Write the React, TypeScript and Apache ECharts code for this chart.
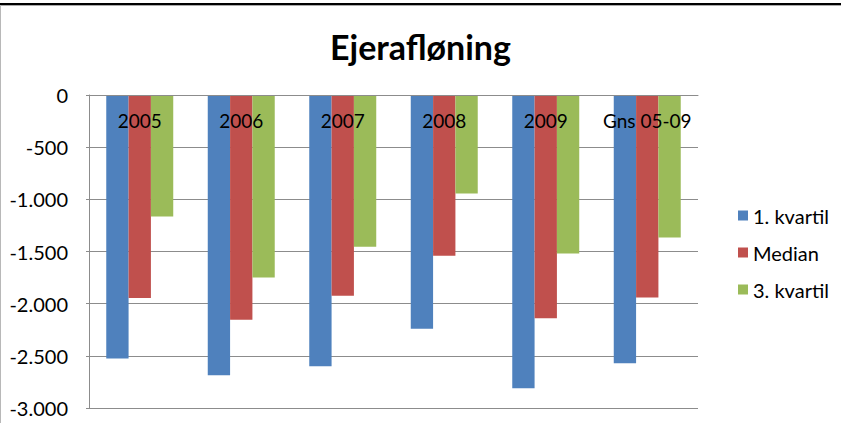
import React, { useEffect, useRef } from "react";
import * as echarts from "echarts";

const categories = ["2005", "2006", "2007", "2008", "2009", "Gns 05-09"];
const seriesNames = ["1. kvartil", "Median", "3. kvartil"];
const kvartil1 = [-2525, -2685, -2600, -2240, -2810, -2570];
const median = [-1945, -2155, -1925, -1540, -2140, -1940];
const kvartil3 = [-1165, -1750, -1455, -943, -1520, -1365];
const yTicks = { min: -3000, max: 0, interval: 500 };
const colors = ["#4F81BD", "#C0504D", "#9BBB59"];

const FONT = "Lato";

function fmt(v: number): string {
  const s = Math.abs(v).toString().replace(/\B(?=(\d{3})+(?!\d))/g, ".");
  return (v < 0 ? "-" : "") + s;
}

export default function App() {
  const ref = useRef<HTMLDivElement>(null);
  useEffect(() => {
    if (!ref.current) return;
    const chart = echarts.init(ref.current, null, { renderer: "svg" });
    const values = [kvartil1, median, kvartil3];
    chart.setOption({
      animation: false,
      backgroundColor: "#ffffff",
      textStyle: { fontFamily: FONT },
      title: {
        text: "Ejerafløning",
        left: "center",
        top: 24,
        textStyle: { fontFamily: FONT, fontWeight: "bold", fontSize: 34, color: "#000" },
      },
      legend: {
        orient: "vertical",
        left: 733,
        top: 200,
        itemWidth: 10,
        itemHeight: 10,
        itemGap: 16,
        icon: "rect",
        data: seriesNames,
        textStyle: { fontFamily: FONT, fontSize: 20, color: "#000", lineHeight: 21 },
      },
      grid: { left: 89, right: 143, top: 95, bottom: 15, containLabel: false, outerBoundsMode: "none" },
      xAxis: {
        type: "category",
        position: "top",
        z: 10,
        data: categories,
        axisLine: { onZero: false, lineStyle: { color: "#8c8c8c", width: 1 } },
        axisTick: { show: false },
        axisLabel: { inside: true, color: "#000", fontSize: 19, fontFamily: FONT, margin: 16, interval: 0 },
      },
      yAxis: {
        type: "value",
        min: yTicks.min,
        max: yTicks.max,
        interval: yTicks.interval,
        axisLine: { show: true, lineStyle: { color: "#8c8c8c", width: 1 } },
        axisTick: { show: true, length: 3, lineStyle: { color: "#8c8c8c" } },
        splitLine: { show: true, lineStyle: { color: "#8c8c8c", width: 1 } },
        axisLabel: { color: "#000", fontSize: 20, fontFamily: FONT, margin: 21, formatter: fmt },
      },
      series: seriesNames.map((name, i) => ({
        name,
        type: "bar",
        data: values[i],
        barGap: "0%",
        barCategoryGap: "34%",
        itemStyle: { color: colors[i] },
      })),
      graphic: [
        { type: "line", shape: { x1: 0, y1: 4, x2: 841, y2: 4 }, style: { stroke: "#000", lineWidth: 2 } },
        { type: "line", shape: { x1: 0, y1: 5.5, x2: 841, y2: 5.5 }, style: { stroke: "#aaaaaa", lineWidth: 1 } },
        { type: "line", shape: { x1: 0.5, y1: 5, x2: 0.5, y2: 423 }, style: { stroke: "#b8b8b8", lineWidth: 1 } },
      ],
    });
    return () => chart.dispose();
  }, []);
  return (
    <div
      ref={ref}
      style={{ position: "fixed", left: 0, top: 0, width: 841, height: 423, background: "#fff" }}
    />
  );
}
